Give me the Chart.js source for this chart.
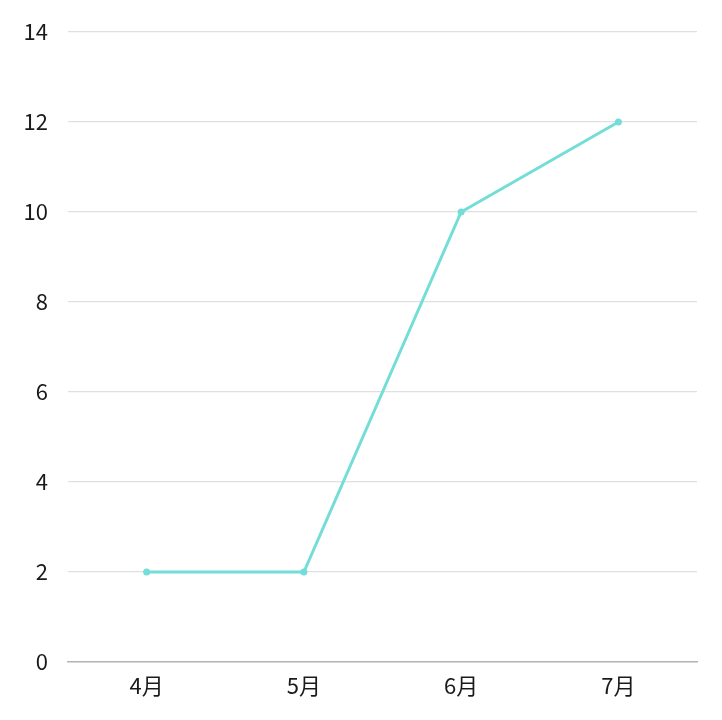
<!DOCTYPE html>
<html><head><meta charset="utf-8">
<script src="https://cdn.jsdelivr.net/npm/chart.js@4"></script>
<style>html,body{margin:0;padding:0;background:#fff}#wrap{width:722px;height:720px}</style>
</head><body><div id="wrap"><canvas id="c"></canvas></div>
<script>
const categories = ['4月','5月','6月','7月'];
const values = [2, 2, 10, 12];
const yMin = 0, yMax = 14, yStep = 2;

const FONT = '"Noto Sans CJK SC","Noto Sans",sans-serif';
new Chart(document.getElementById('c'), {
  type: 'line',
  data: { labels: categories, datasets: [{
    data: values,
    borderColor: 'rgb(115,221,215)',
    backgroundColor: 'rgb(115,221,215)',
    borderWidth: 3,
    pointRadius: 3.5,
    pointHoverRadius: 3.5,
    pointBorderWidth: 0,
    tension: 0
  }]},
  options: {
    responsive: true, maintainAspectRatio: false, animation: false,
    layout: { padding: { top: 32, right: 25, left: 0, bottom: 0 } },
    plugins: { legend: { display: false }, tooltip: { enabled: false } },
    scales: {
      x: {
        offset: true,
        grid: { display: false, drawTicks: false },
        border: { display: true, color: '#b5b5b5', width: 1.5 },
        ticks: { color: '#1a1a1a', font: { family: FONT, size: 22 }, padding: 10 },
        afterFit: s => { s.height = 58; }
      },
      y: {
        min: yMin, max: yMax,
        grid: { color: '#e0e0e0', lineWidth: 1.2, drawTicks: false },
        border: { display: false },
        ticks: { stepSize: yStep, color: '#1a1a1a', font: { family: FONT, size: 22 }, padding: 20 },
        afterFit: s => { s.width = 68; s.paddingTop = 0; }
      }
    }
  }
});
</script></body></html>
